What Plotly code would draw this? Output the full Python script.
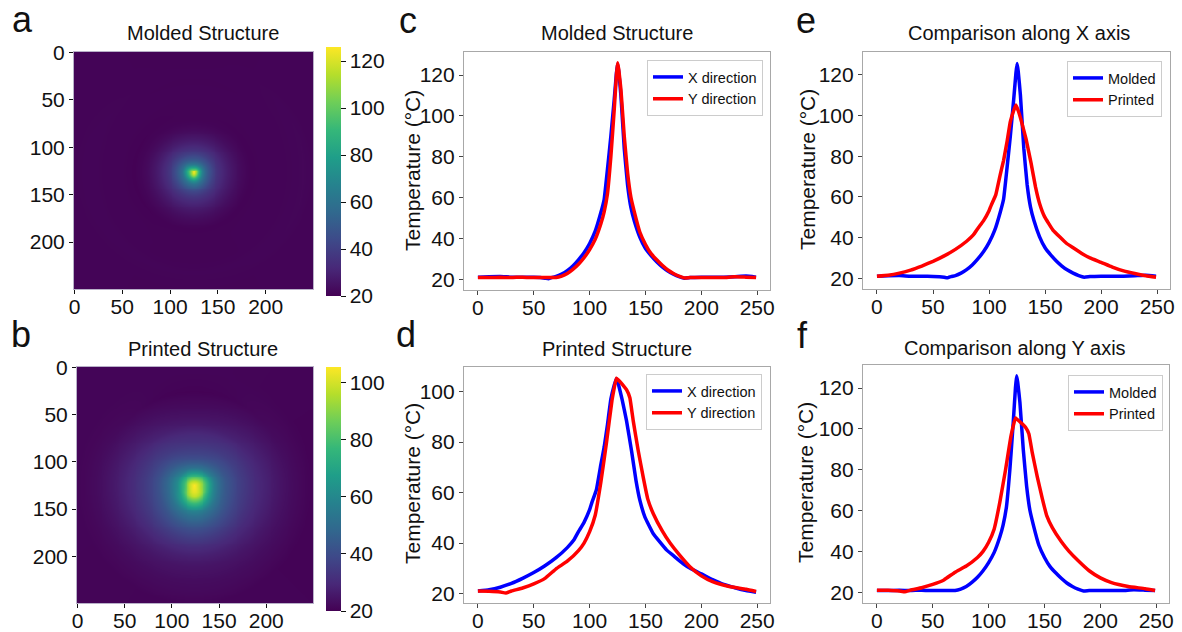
import numpy as np
import plotly.graph_objects as go

# ---------------- data ----------------
# Molded structure, profile along X (pixel index -> temperature, °C)
molded_x_pos = [0, 10, 20, 30, 40, 50, 60, 63, 66, 70, 75, 80, 85, 90, 95, 100, 105, 110, 113, 116,
                119, 122, 124, 125, 126, 128, 131, 134, 137, 140, 145, 150, 155, 160, 165, 170, 175,
                180, 185, 190, 200, 210, 220, 230, 240, 249]
molded_x_temp = [21.0, 21.2, 21.3, 21.0, 21.0, 20.9, 20.5, 20.2, 20.8, 21.3, 22.5, 24.2, 26.5, 29.5,
                 33.0, 37.5, 43.5, 52.5, 59.0, 74.0, 90.0, 108.0, 121.0, 125.6, 122.0, 110.0, 84.0,
                 66.0, 55.0, 48.5, 40.5, 35.0, 31.5, 28.5, 26.0, 24.0, 22.5, 21.3, 20.5, 20.8, 21.0,
                 21.0, 21.0, 21.2, 21.5, 21.0]

# Molded structure, profile along Y
molded_y_pos = [0, 10, 20, 30, 40, 50, 60, 70, 75, 80, 85, 90, 95, 100, 105, 110, 113, 116, 119, 122,
                124, 125, 126, 128, 131, 134, 137, 140, 145, 150, 155, 160, 165, 170, 175, 180, 185,
                190, 200, 210, 220, 230, 240, 249]
molded_y_temp = [20.8, 20.8, 20.9, 20.8, 21.0, 20.8, 20.8, 20.8, 21.5, 22.8, 24.8, 27.3, 30.5, 34.5,
                 39.5, 47.0, 53.0, 62.0, 80.0, 103.0, 120.0, 126.0, 123.0, 113.0, 90.0, 72.0, 60.0,
                 53.0, 43.0, 37.0, 32.5, 29.5, 26.8, 24.5, 22.8, 21.5, 20.6, 20.8, 20.8, 20.8, 20.8,
                 21.2, 21.0, 20.8]

# Printed structure, profile along X
printed_x_pos = [0, 10, 20, 30, 40, 50, 60, 70, 80, 86, 90, 95, 100, 102, 106, 110, 113, 116, 119,
                 122, 124, 126, 129, 133, 137.5, 141.5, 145, 149.5, 157, 169, 175, 183.5, 190, 200,
                 210, 220, 230, 240, 249]
printed_x_temp = [21.0, 21.5, 22.5, 24.0, 26.0, 28.3, 31.0, 34.2, 38.2, 41.3, 44.5, 48.2, 53.2, 56.0,
                  61.0, 71.0, 78.0, 87.0, 97.0, 102.5, 105.2, 102.5, 97.0, 88.5, 76.6, 64.8, 56.9,
                  50.3, 43.7, 37.2, 35.0, 31.9, 30.0, 27.8, 25.5, 23.6, 22.3, 21.2, 20.5]

# Printed structure, profile along Y
printed_y_pos = [0, 10, 20, 25, 30, 40, 50, 60, 70, 80, 90, 95, 100, 105, 110, 115, 120, 124, 127,
                 130, 133, 136, 139, 143.5, 148, 152, 157, 165, 172, 180, 190, 200, 210, 225, 240, 249]
printed_y_temp = [21.0, 20.9, 20.6, 20.2, 21.0, 22.2, 23.8, 26.0, 29.8, 32.8, 37.0, 40.0, 44.5, 51.0,
                  64.0, 79.5, 96.5, 105.3, 104.0, 102.5, 100.8, 97.6, 88.5, 76.6, 66.0, 57.5, 51.6,
                  44.8, 40.0, 35.5, 30.5, 27.0, 24.7, 22.8, 21.7, 20.8]

line_x_ticks = [0, 50, 100, 150, 200, 250]
heat_ticks = [0, 50, 100, 150, 200]
molded_cbar_ticks = [20, 40, 60, 80, 100, 120]
printed_cbar_ticks = [20, 40, 60, 80, 100]
molded_temp_ticks = [20, 40, 60, 80, 100, 120]
printed_temp_ticks = [20, 40, 60, 80, 100]

MOLDED_CENTER = (125, 126)
PRINTED_CENTER = (124, 125)
GRID_SIZE = 250


def build_field(px, tx, py, ty, center):
    """2-D temperature table built from the X and Y profiles through the hot spot."""
    idx = np.arange(GRID_SIZE)
    X, Y = np.meshgrid(idx, idx)
    cx, cy = center
    dx = X - cx
    dy = Y - cy
    r = np.hypot(dx, dy)
    r2 = np.where(r > 0, r ** 2, 1.0)
    w = np.where(r > 0, dx ** 2 / r2, 0.5)
    sx = np.where(dx >= 0, 1, -1)
    sy = np.where(dy >= 0, 1, -1)
    zx = np.interp(cx + sx * r, px, tx)
    zy = np.interp(cy + sy * r - (cy - 124), py, ty)
    return np.round(w * zx + (1 - w) * zy, 1)


molded_field = build_field(molded_x_pos, molded_x_temp, molded_y_pos, molded_y_temp, MOLDED_CENTER)
printed_field = build_field(printed_x_pos, printed_x_temp, printed_y_pos, printed_y_temp, PRINTED_CENTER)

# ---------------- layout helpers ----------------
W, H = 1182, 632
FONT = "Liberation Sans, Arial, Helvetica, sans-serif"
TXT = "#111111"
BLUE = "#0000ff"
RED = "#ff0000"


def px_x(v):
    return v / W


def px_y(v):
    return 1 - v / H


def xdom(l, r):
    return [px_x(l), px_x(r)]


def ydom(t, b):
    return [px_y(b), px_y(t)]


fig = go.Figure()

CBAR_X = 326


def cbar(top, bottom, ticks):
    return dict(x=px_x(CBAR_X), xanchor="left", xref="container", yref="container",
                xpad=0, ypad=0, y=px_y((top + bottom) / 2), yanchor="middle",
                len=(bottom - top) / H, lenmode="fraction",
                thickness=15, thicknessmode="pixels", outlinewidth=0,
                ticks="outside", ticklen=5, tickcolor=TXT, tickwidth=1,
                tickvals=ticks, tickfont=dict(size=21, color=TXT, family=FONT))


# ---------------- heatmaps ----------------
fig.add_trace(go.Heatmap(
    z=molded_field.tolist(), x=list(range(GRID_SIZE)), y=list(range(GRID_SIZE)),
    colorscale="Viridis", zmin=20, zmax=126, xaxis="x", yaxis="y", hoverinfo="skip",
    colorbar=cbar(47, 296, molded_cbar_ticks),
))
fig.add_trace(go.Heatmap(
    z=printed_field.tolist(), x=list(range(GRID_SIZE)), y=list(range(GRID_SIZE)),
    colorscale="Viridis", zmin=20, zmax=105.5, xaxis="x2", yaxis="y2", hoverinfo="skip",
    colorbar=cbar(367, 611, printed_cbar_ticks),
))

# ---------------- profile lines ----------------
line_w = 3.5
panels = [
    ("x3", "y3", "legend", [("X direction", molded_x_pos, molded_x_temp, BLUE),
                            ("Y direction", molded_y_pos, molded_y_temp, RED)]),
    ("x4", "y4", "legend2", [("X direction", printed_x_pos, printed_x_temp, BLUE),
                             ("Y direction", printed_y_pos, printed_y_temp, RED)]),
    ("x5", "y5", "legend3", [("Molded", molded_x_pos, molded_x_temp, BLUE),
                             ("Printed", printed_x_pos, printed_x_temp, RED)]),
    ("x6", "y6", "legend4", [("Molded", molded_y_pos, molded_y_temp, BLUE),
                             ("Printed", printed_y_pos, printed_y_temp, RED)]),
]
for xa, ya, lg, series in panels:
    for name, pos, temp, col in series:
        fig.add_trace(go.Scatter(x=pos, y=temp, mode="lines", name=name,
                                 line=dict(color=col, width=line_w, shape="spline", smoothing=0.3),
                                 xaxis=xa, yaxis=ya, legend=lg, hoverinfo="skip"))

# ---------------- axes ----------------
tickfont = dict(size=21, color=TXT, family=FONT)
FRAME = "#a8a8a8"
X_STANDOFF = -5


def heat_axes(dom_x, dom_y, anchor_x, anchor_y):
    xa = dict(domain=dom_x, anchor=anchor_y, range=[-0.5, 249.5], tickvals=heat_ticks,
              ticks="outside", ticklen=4, tickcolor=TXT, showgrid=False, zeroline=False,
              showline=True, mirror=True, linecolor="#b8b0c8", linewidth=1, tickfont=tickfont,
              ticklabelstandoff=X_STANDOFF, fixedrange=True)
    ya = dict(domain=dom_y, anchor=anchor_x, range=[249.5, -0.5], tickvals=heat_ticks,
              ticks="outside", ticklen=4, tickcolor=TXT, showgrid=False, zeroline=False,
              showline=True, mirror=True, linecolor="#b8b0c8", linewidth=1, tickfont=tickfont,
              fixedrange=True)
    return xa, ya


def line_axes(dom_x, dom_y, anchor_x, anchor_y, yrange, yticks):
    xa = dict(domain=dom_x, anchor=anchor_y, range=[-12.45, 261.45], tickvals=line_x_ticks,
              ticks="outside", ticklen=4, tickcolor="#444", showgrid=False, zeroline=False,
              showline=True, mirror=True, linecolor=FRAME, linewidth=1.2, tickfont=tickfont,
              ticklabelstandoff=X_STANDOFF)
    ya = dict(domain=dom_y, anchor=anchor_x, range=yrange, tickvals=yticks,
              ticks="outside", ticklen=4, tickcolor="#444", showgrid=False, zeroline=False,
              showline=True, mirror=True, linecolor=FRAME, linewidth=1.2, tickfont=tickfont)
    return xa, ya


ax = {}
ax["xaxis"], ax["yaxis"] = heat_axes(xdom(74, 313), ydom(52, 289), "x", "y")
ax["xaxis2"], ax["yaxis2"] = heat_axes(xdom(77, 313), ydom(367, 603), "x2", "y2")
ax["xaxis3"], ax["yaxis3"] = line_axes(xdom(464, 770), ydom(52, 290), "x3", "y3",
                                       [14.7, 131.3], molded_temp_ticks)
ax["xaxis4"], ax["yaxis4"] = line_axes(xdom(464, 770), ydom(367, 603), "x4", "y4",
                                       [16.25, 109.75], printed_temp_ticks)
ax["xaxis5"], ax["yaxis5"] = line_axes(xdom(863, 1170), ydom(52, 289), "x5", "y5",
                                       [14.7, 131.3], molded_temp_ticks)
ax["xaxis6"], ax["yaxis6"] = line_axes(xdom(863, 1169), ydom(365, 603), "x6", "y6",
                                       [14.7, 131.3], molded_temp_ticks)


def legend_at(right, top):
    return dict(x=px_x(right), xanchor="right", y=px_y(top), yanchor="top",
                xref="container", yref="container",
                bgcolor="rgba(255,255,255,0.9)", bordercolor="#cccccc", borderwidth=1,
                font=dict(size=14.5, color=TXT, family=FONT), itemwidth=30, tracegroupgap=0)


# ---------------- text ----------------
annotations = []


def add_text(text, x, y, size, angle=0):
    annotations.append(dict(text=text, x=px_x(x), y=px_y(y), xref="paper", yref="paper",
                            xanchor="center", yanchor="middle", showarrow=False, textangle=angle,
                            font=dict(size=size, color=TXT, family=FONT)))


titles = [("Molded Structure", 203, 33), ("Printed Structure", 203, 349),
          ("Molded Structure", 617, 33), ("Printed Structure", 617, 349),
          ("Comparison along X axis", 1019, 33), ("Comparison along Y axis", 1015, 348)]
for t, x, y in titles:
    add_text(t, x, y, 20)

for x, y in [(412, 171), (412, 484), (807, 170), (805, 483)]:
    add_text("Temperature (°C)", x, y, 21, angle=-90)

for letter, x, y in [("a", 22, 19), ("b", 21, 334), ("c", 408, 21), ("d", 406, 334),
                     ("e", 806, 21), ("f", 802, 335)]:
    add_text(letter, x, y, 36)

fig.update_layout(
    width=W, height=H, margin=dict(l=0, r=0, t=0, b=0, autoexpand=False),
    paper_bgcolor="white", plot_bgcolor="white",
    font=dict(family=FONT, color=TXT),
    showlegend=True,
    legend=legend_at(763, 60), legend2=legend_at(762, 374),
    legend3=legend_at(1162, 61), legend4=legend_at(1163, 375),
    annotations=annotations,
    **ax,
)

fig.write_html("out.html", config={"displayModeBar": False},
               post_script="document.body.style.margin='0px';document.body.style.overflow='hidden';")
